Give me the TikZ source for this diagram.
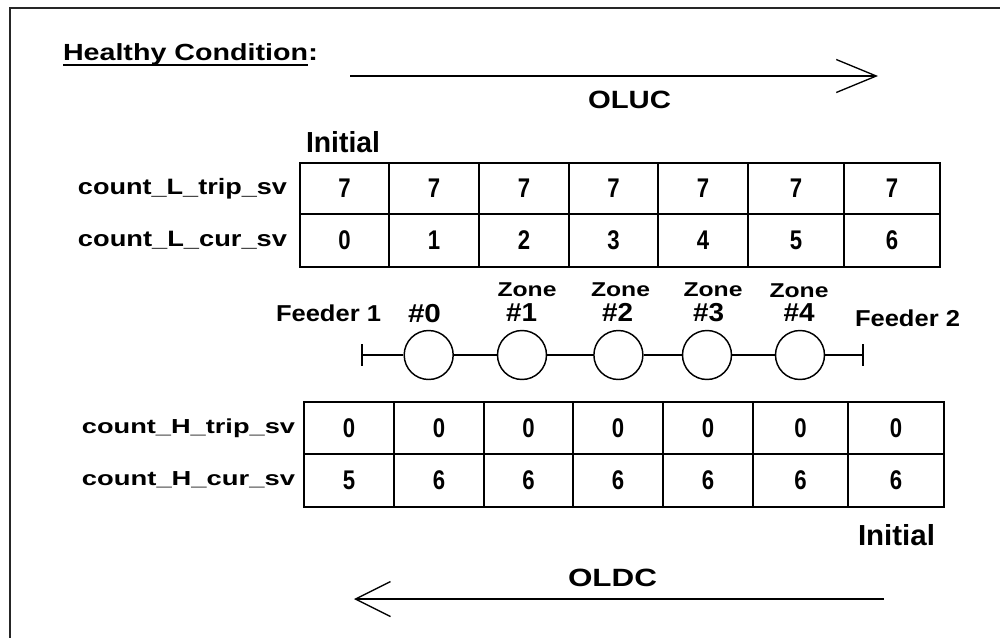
\documentclass[tikz,border=0pt]{standalone}
\usepackage{fontspec}
\setmainfont{Liberation Sans}
\usepackage{graphicx}
\usetikzlibrary{arrows.meta}
\newcommand{\fitw}[2]{\resizebox{#1pt}{\height}{#2}}
\newcommand{\dg}[1]{\scalebox{0.82}[1]{#1}}
\begin{document}
\begin{tikzpicture}[x=0.75pt,y=-0.75pt,
  txt/.style={inner sep=0pt,outer sep=0pt},
  sz/.style={font=\bfseries\fontsize{#1pt}{#1pt}\selectfont},
  cell/.style={draw,line width=1.5pt,inner sep=0pt,outer sep=0pt,font=\bfseries\fontsize{20.25pt}{22pt}\selectfont},
  zc/.style={circle,draw,line width=1.1pt,minimum size=36.75pt,inner sep=0pt},
  feed/.style={line width=1.5pt},
  flow/.style={line width=1.5pt},
  uline/.style={line width=1.5pt},
  frame/.style={line width=2pt,black!85}]
\useasboundingbox (0,0) rectangle (1000,637);
\draw[frame] (10,645) -- (10,8) -- (1010,8);

% title
\node[txt,sz=17.5,anchor=base west] (hc) at (63,60) {\fitw{183.75}{Healthy Condition}};
\node[txt,sz=17.5,anchor=base west] (hcc) at (hc.base east) {\fitw{7.5}{:}};
\draw[uline] ([yshift=-3.75pt]hc.base west) -- ([yshift=-3.75pt]hc.base east);

% OLUC arrow
\coordinate (ua) at (350,76);
\coordinate (ub) at (878,76);
\draw[flow,-{Straight Barb[length=30pt,width=24.75pt,line width=1pt]}] (ua) -- (ub);
\node[txt,sz=18.75,anchor=base] (oluc) at (629.5,108) {\fitw{62.25}{OLUC}};

\node[txt,sz=21.75,anchor=base west] (ini1) at (306,152) {\fitw{55.5}{Initial}};

% top table
\foreach \i/\xa/\xb/\vc in {0/300/389/0,1/389/479/1,2/479/569/2,3/569/658/3,4/658/748/4,5/748/844/5,6/844/940/6}{
  \node[cell,minimum width={(\xb-\xa)*0.75pt},minimum height=38.25pt] (lt\i) at ({(\xa+\xb)/2},188.5) {\dg{7}};
  \node[cell,minimum width={(\xb-\xa)*0.75pt},minimum height=39.75pt] (lc\i) at ({(\xa+\xb)/2},240.5) {\dg{\vc}};
}
\node[txt,sz=16.7,anchor=base east] (lblLt) at (287,194) {\fitw{156.75}{count\_L\_trip\_sv}};
\node[txt,sz=16.7,anchor=base east] (lblLc) at (287,246) {\fitw{156.75}{count\_L\_cur\_sv}};

% feeder line
\node[txt,sz=17.25,anchor=base west] (fd1) at (276,321.5) {\fitw{78.75}{Feeder 1}};
\node[txt,sz=17.25,anchor=base west] (fd2) at (855,326.5) {\fitw{78.75}{Feeder 2}};
\node[txt,sz=19.5,anchor=base] (n0) at (424.5,322.5) {\fitw{24.75}{\#0}};
\foreach \k/\zx/\nx/\zy/\ny in {1/527/521.5/296/321.5,2/620.5/617.5/296/321.5,3/713/708.5/296/321.5,4/799/799/297/321.5}{
  \node[txt,sz=15,anchor=base] (zl\k) at (\zx,\zy) {\fitw{44.25}{Zone}};
  \node[txt,sz=19.5,anchor=base] (n\k) at (\nx,\ny) {\fitw{23.25}{\#\k}};
}
\node[zc] (z0) at (428.7,355) {};
\node[zc] (z1) at (522,355) {};
\node[zc] (z2) at (618.4,355) {};
\node[zc] (z3) at (707,355) {};
\node[zc] (z4) at (800,355) {};
\coordinate (f1) at (361.5,355);
\coordinate (f2) at (862.5,355);
\draw[feed] ([yshift=8.25pt]f1) -- ([yshift=-8.25pt]f1);
\draw[feed] ([yshift=8.25pt]f2) -- ([yshift=-8.25pt]f2);
\draw[feed] (f1) -- (z0) -- (z1) -- (z2) -- (z3) -- (z4) -- (f2);

% bottom table
\foreach \i/\xa/\xb/\vc in {0/304/394/5,1/394/484/6,2/484/573/6,3/573/663/6,4/663/753/6,5/753/848/6,6/848/944/6}{
  \node[cell,minimum width={(\xb-\xa)*0.75pt},minimum height=39pt] (ht\i) at ({(\xa+\xb)/2},428) {\dg{0}};
  \node[cell,minimum width={(\xb-\xa)*0.75pt},minimum height=39.75pt] (hc\i) at ({(\xa+\xb)/2},480.5) {\dg{\vc}};
}
\node[txt,sz=15.2,anchor=base east] (lblHt) at (295,433) {\fitw{159.75}{count\_H\_trip\_sv}};
\node[txt,sz=15.2,anchor=base east] (lblHc) at (295,485.5) {\fitw{159.75}{count\_H\_cur\_sv}};

\node[txt,sz=21.75,anchor=base west] (ini2) at (858,545) {\fitw{57.75}{Initial}};

% OLDC arrow
\node[txt,sz=18.75,anchor=base] (oldc) at (612.5,586) {\fitw{66.75}{OLDC}};
\coordinate (da) at (884,599);
\coordinate (db) at (354,599);
\draw[flow,-{Straight Barb[length=26.25pt,width=26.25pt,line width=1pt]}] (da) -- (db);
\end{tikzpicture}
\end{document}
